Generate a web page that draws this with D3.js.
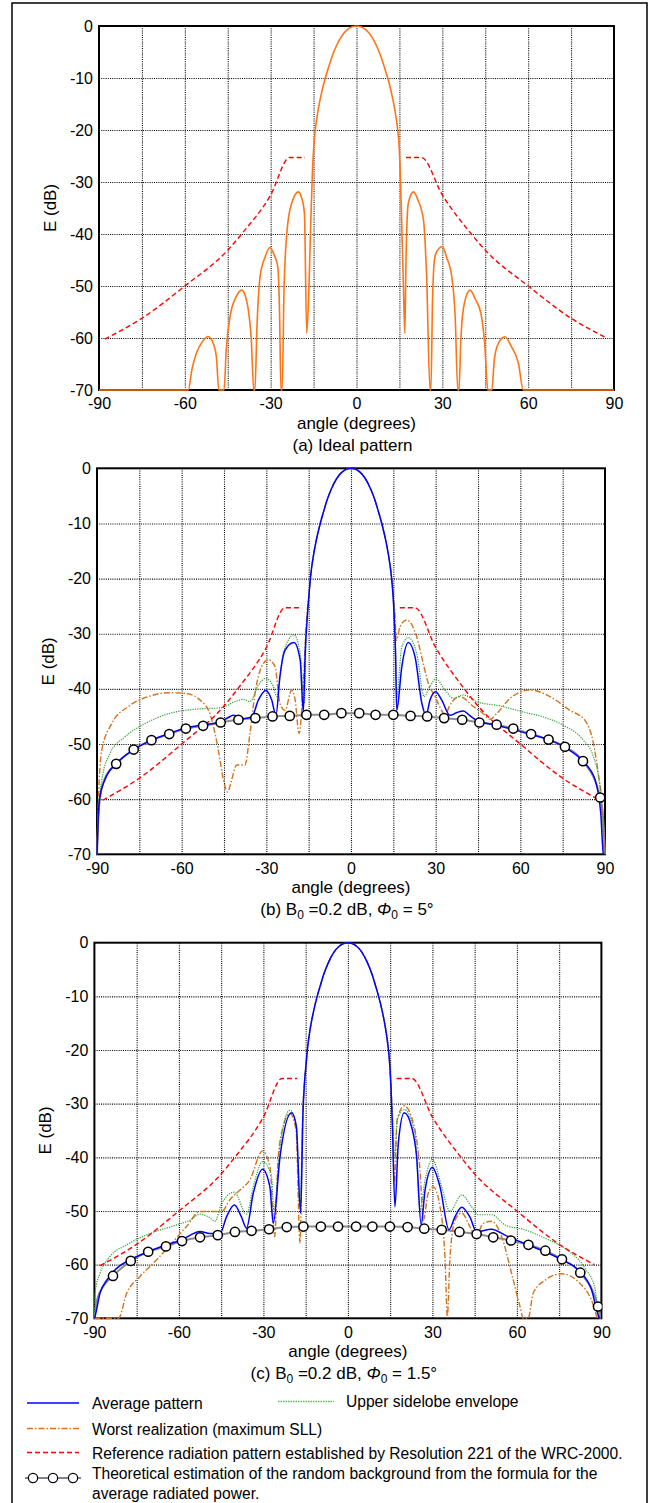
<!DOCTYPE html>
<html>
<head>
<meta charset="utf-8">
<script src="https://cdn.jsdelivr.net/npm/d3@7"></script>
<style>
  body { margin: 0; background: #fff; }
  svg { display: block; font-family: Arial, "Liberation Sans", sans-serif; }
</style>
</head>
<body>
<svg id="fig" width="649" height="1503"></svg>
<script>
// Axis ticks
const xTicks = [-90, -60, -30, 0, 30, 60, 90];
const xGrid = [-75, -60, -45, -30, -15, 0, 15, 30, 45, 60, 75];
const yTicks = [0, -10, -20, -30, -40, -50, -60, -70];

// Reference radiation pattern (Resolution 221, WRC-2000), [angle, dB]
const refPattern = [[-88, -60.2], [-75, -56.2], [-60, -50], [-45, -43.1], [-40, -39.9], [-30, -32.5],
  [-23.4, -25.3], [-18, -25.3], null, [17.3, -25.3], [22.7, -25.3], [30, -32.5], [40, -39.9],
  [45, -43.1], [60, -50], [75, -56.2], [87.5, -60]];

// Main lobe (above about -23 dB)
const mainLobe = [[-14.9, -23], [-14.3, -19.5], [-13.3, -15.8], [-12.2, -12.8], [-10.9, -10],
  [-9.8, -8], [-8.5, -5.8], [-7, -3.8], [-5, -1.8], [-3.2, -0.7], [-1.5, -0.15], [0, 0], [1.5, -0.15],
  [3.2, -0.7], [5, -1.8], [7, -3.8], [8.5, -5.8], [9.8, -8], [10.9, -10], [12.2, -12.8], [13.3, -15.8],
  [14.3, -19.5], [14.9, -23]];

// (a) ideal pattern
const idealLeft = [[-90, -70], [-58.8, -70], [-57.5, -66], [-56, -63], [-54, -60.8], [-52, -59.7],
  [-50.5, -60.5], [-49, -63.5], [-48.1, -70], [-46.3, -70], [-45.5, -62], [-44.2, -55.9], [-42, -52],
  [-40.1, -50.8], [-38.8, -52], [-37.8, -54.6], [-36.8, -60], [-35.9, -70], [-35.5, -70], [-34.8, -58],
  [-33.7, -48.2], [-32, -44.5], [-30.2, -42.6], [-28.8, -44], [-27.5, -46.3], [-26.9, -55], [-26.4, -70],
  [-26, -70], [-25.3, -50], [-24, -37.9], [-22.3, -33.5], [-20.3, -31.9], [-19.2, -33], [-18.2, -36],
  [-17.4, -59.1], [-16.6, -50], [-16, -38], [-15.4, -28]];
const idealRight = [[15.4, -30], [15.9, -40], [16.4, -50], [16.9, -59.1], [17.3, -45], [18.1, -34.1],
  [19.9, -31.9], [21.5, -33.5], [23.4, -37.3], [24.5, -48], [25.7, -70], [26, -70], [26.6, -52],
  [27.4, -44.4], [28.5, -43], [30, -42.4], [31.5, -44.5], [33.3, -48.2], [34.5, -56], [35.4, -70],
  [35.8, -70], [36.5, -60], [37.7, -53.3], [39.7, -50.8], [41.5, -52.5], [43.5, -55.3], [44.8, -61],
  [45.9, -70], [47.3, -70], [48.2, -64], [49.6, -61], [51.9, -59.75], [54, -61.5], [56.6, -64.9],
  [58.3, -70], [90, -70]];

// (b) B0 = 0.2 dB, phi0 = 5 deg
const avgLeftB = [[-90, -70], [-89.6, -64], [-89, -59.6], [-87.2, -56.5], [-83, -53.5], [-76.9, -51],
  [-70.6, -49.3], [-64.5, -48.1], [-58.6, -47.1], [-52.3, -46.5], [-46.2, -46], [-43.5, -45.2],
  [-41.7, -44.8], [-40, -45.1], [-38.7, -45.4], [-35.2, -45.1], [-32.8, -42], [-30.2, -40.3],
  [-28.1, -42], [-26.6, -44.8], [-25.2, -37.8], [-23.4, -33], [-20.2, -31.6], [-18, -34.8],
  [-16.9, -44.2], [-16.2, -33], [-15.5, -27]];
const avgRightB = [[15.4, -28], [15.8, -34], [16.2, -43.9], [18, -36], [20.3, -31.6], [22.7, -34.2],
  [25.1, -42.6], [26.6, -44.8], [28, -42], [30, -40.5], [32.1, -42], [35.1, -44.8], [37.5, -44.3],
  [39.8, -44], [42, -44.8], [44.5, -45.7], [51.6, -46.6], [57.5, -47.4], [64, -48.3], [70.5, -49.3],
  [76.4, -50.8], [82.3, -53.2], [86.5, -56.5], [88.5, -62.6], [89.4, -69.8], [89.7, -70]];
const envLeftB = [[-90, -70], [-89.5, -62.6], [-88.3, -56.5], [-85.4, -51.7], [-80.1, -48.7], [-73, -46.3],
  [-64.7, -44.5], [-55.3, -43.7], [-45.8, -43.4], [-41.1, -42.3], [-38.1, -41.9], [-35.8, -42.3],
  [-32.8, -39.3], [-30.2, -38.1], [-27.5, -39.6], [-26.3, -41.4], [-24, -33.6], [-20.2, -30.2],
  [-18, -33.6], [-16.5, -42.6], [-16, -33], [-15.5, -27]];
const envRightB = [[15.4, -28], [15.8, -33], [16.2, -41.4], [18, -32.4], [20.3, -30.7], [23.3, -33.6],
  [25.9, -41.4], [28, -39.5], [30.1, -38.2], [33.3, -40.2], [36.3, -41.7], [39.8, -41.1], [44.5, -42.3],
  [52.8, -43.1], [61.1, -44.2], [68.2, -45.1], [75.2, -46.6], [82.3, -49.3], [85.9, -52.3],
  [88.2, -57.8], [89.2, -66.2], [89.7, -70]];
const worstLeftB = [[-90, -70], [-89.7, -64], [-89.5, -60.2], [-88.3, -51.1], [-84.8, -46.3],
  [-78.9, -43.2], [-71.8, -41.4], [-64.7, -40.7], [-58.8, -40.8], [-52.9, -42.3], [-50, -44.5],
  [-47, -51.1], [-45.2, -56.5], [-43.7, -58.7], [-42.3, -56.5], [-40.5, -53.8], [-37.6, -53.8],
  [-35.8, -48.1], [-34, -40.8], [-31.7, -36], [-29.3, -34.7], [-26.9, -36], [-25.2, -42.6],
  [-23.4, -43.9], [-21, -40.2], [-19.8, -42], [-18.4, -48.1], [-16.9, -39], [-15.7, -27]];
const worstRightB = [[15.5, -26], [16, -31.2], [17.4, -28.7], [19.7, -27.5], [23.3, -30.6],
  [25.6, -35.4], [27.4, -39], [29.8, -41.4], [32.1, -43.9], [33.3, -44.8], [34.9, -43.1], [38.6, -41.4],
  [43.4, -43.2], [46.9, -44.5], [49.3, -45.5], [51.6, -44.5], [56.4, -41.7], [63.4, -40.2],
  [70.5, -41.4], [77.6, -43.9], [82.9, -45.7], [85.9, -49.9], [87.6, -55.3], [89.2, -62.6], [89.9, -70]];
const bgLineB = [[-90, -70], [-89.5, -63], [-88.5, -58.5], [-86.5, -55.5]];
const bgMarkB = [[-83.2, -53.6], [-77, -51], [-70.7, -49.3], [-64.4, -48.2], [-58.5, -47.2], [-52.4, -46.7],
  [-46.2, -46.1], [-39.9, -45.6], [-33.9, -45.3], [-27.8, -45], [-21.7, -44.9], [-15.8, -44.7],
  [-9.5, -44.7], [-3.4, -44.4], [2.9, -44.4], [8.7, -44.7], [15, -44.7], [21.1, -44.9], [27, -45],
  [33, -45.3], [39.4, -45.6], [45.5, -46.1], [51.6, -46.5], [57.5, -47.2], [63.8, -48.2], [70, -49.2],
  [75.8, -50.5], [82.2, -53.1], [88.3, -59.7]];
const bgEndB = [[89.4, -64], [90, -70]];

// (c) B0 = 0.2 dB, phi0 = 1.5 deg
const avgLeftC = [[-90, -70], [-89.8, -69.7], [-88, -65.3], [-85.6, -62.9], [-82.1, -60.7], [-77.4, -59.1],
  [-70.9, -57.6], [-64.4, -56.3], [-59.1, -55.4], [-52.5, -53.8], [-49, -54.2], [-45.4, -54.2],
  [-43.1, -51.1], [-40.3, -48.9], [-37.8, -51.1], [-36, -53.2], [-33.6, -46.7], [-30.3, -42.2],
  [-27.7, -45.5], [-26.5, -52.3], [-24.1, -39.9], [-20, -31.7], [-18.3, -34.3], [-16.8, -50.4],
  [-15.9, -31], [-15.4, -26]];
const avgRightC = [[15.3, -27], [15.8, -34.3], [16.7, -49.2], [17.9, -37.4], [20, -31.7], [22.6, -34.3],
  [24.4, -39.9], [26, -52.6], [27.4, -46.1], [30, -41.9], [32.7, -45.5], [35.9, -53.5], [38, -51.1],
  [40.4, -49.3], [43.3, -51.1], [45.7, -53.9], [51, -53.4], [55.8, -54.5], [62.9, -56.1], [70, -57.6],
  [75.9, -59.1], [81.8, -61], [86.5, -64.7], [89.1, -69.7], [89.5, -70]];
const envLeftC = [[-90, -70], [-89.8, -65.3], [-88, -61.6], [-84.5, -58.5], [-78.5, -56.3], [-70.3, -54.2],
  [-60.8, -52.6], [-56, -51.7], [-52.5, -50.6], [-49.5, -51.1], [-47.2, -51.9], [-44.8, -48.6],
  [-40.3, -46.5], [-36, -50.6], [-33.6, -45.5], [-30.3, -40.8], [-27.1, -43.6], [-26.3, -49.8],
  [-24.1, -38], [-20.6, -31.2], [-18.4, -33.7], [-17, -49.2], [-16, -31], [-15.4, -26]];
const envRightC = [[15.3, -27], [15.8, -32], [16.6, -40], [17.5, -33], [20, -31.1], [23.8, -35.5],
  [25.6, -49.8], [27.4, -44.2], [30, -40.4], [33.3, -45.5], [36.2, -50.1], [40.4, -47], [43.9, -49.2],
  [46.3, -50.7], [51, -50.7], [55.8, -52.6], [62.9, -53.5], [70, -55.1], [77.1, -57], [84.2, -60.7],
  [87.7, -64.4], [89.1, -69.7], [89.5, -70]];
const worstLeftC = [[-90, -70], [-81.5, -70], [-78.5, -65.3], [-73.8, -62.2], [-67.9, -59.1], [-62, -55.7],
  [-57.3, -52.9], [-52.5, -50.1], [-47.8, -50.1], [-44.8, -50.1], [-41.9, -47.9], [-38.3, -46.1],
  [-34.8, -44.2], [-30.3, -38.8], [-27.7, -41.7], [-26, -54.8], [-24.8, -40.5], [-23, -34.3],
  [-20.6, -31.8], [-18.4, -34.9], [-17, -56], [-16, -32], [-15.4, -26]];
const worstRightC = [[15.3, -27], [15.8, -33], [16.5, -45], [17.5, -33], [20, -30.4], [23.8, -34.9],
  [25.6, -42.4], [26.8, -51.7], [28.5, -46.7], [30.3, -45.5], [32.7, -49.2], [34.5, -59.1], [35.3, -69.7],
  [36.2, -59.1], [38, -51.7], [40.4, -50.4], [43.3, -52.9], [45.3, -54.8], [48.1, -52.3], [51, -51.9],
  [54.6, -54.8], [58.1, -61.6], [61.1, -67.8], [62.3, -70], [64, -70], [65.8, -65.3], [70, -62.9],
  [75.9, -61.7], [81.8, -63.2], [86.5, -66.6], [88.9, -70], [90, -70]];
const bgLineC = [[-90, -70], [-89, -66.5], [-86.8, -64]];
const bgMarkC = [[-83.4, -62.1], [-77.1, -59.3], [-70.9, -57.6], [-64.6, -56.6], [-58.9, -55.6],
  [-52.5, -54.9], [-46.2, -54.5], [-40.1, -53.9], [-34.2, -53.7], [-28, -53.4], [-21.7, -53],
  [-15.8, -52.9], [-9.6, -52.9], [-3.5, -52.9], [2.9, -52.9], [8.7, -52.9], [14.9, -52.9], [21.2, -53],
  [27.1, -53.3], [33.3, -53.5], [39.6, -53.9], [45.7, -54.3], [51.6, -54.9], [57.9, -55.5], [64.1, -56.3],
  [70.1, -57.4], [76, -59], [82.5, -61.5], [88.8, -67.8]];
const bgEndC = [[89.6, -70]];

const COL = {
  ideal: "#ff7414", avg: "#0000ff", env: "#2ea12e", worst: "#d2731e",
  ref: "#ff0000", bg: "#8c8c8c"
};

const svg = d3.select("#fig");

// outer frame
svg.append("rect")
  .attr("x", 12).attr("y", 3).attr("width", 635).attr("height", 1520)
  .attr("fill", "none").attr("stroke", "#000").attr("stroke-width", 1.5);

function drawPanel(p) {
  const x = d3.scaleLinear().domain([-90, 90]).range([p.left, p.right]);
  const y = d3.scaleLinear().domain([-70, 0]).range([p.bottom, p.top]);
  const g = svg.append("g");
  const h = p.bottom - p.top;

  // grid
  const gx = g.append("g").attr("transform", `translate(0,${p.bottom})`)
    .call(d3.axisBottom(x).tickValues(xGrid).tickSize(-h).tickFormat(""));
  const gy = g.append("g").attr("transform", `translate(${p.left},0)`)
    .call(d3.axisLeft(y).tickValues(yTicks.slice(1, -1)).tickSize(-(p.right - p.left)).tickFormat(""));
  [gx, gy].forEach(a => {
    a.select(".domain").remove();
    a.selectAll("line").attr("stroke", "#000").attr("stroke-width", 1.1).attr("stroke-dasharray", "1,1.2");
  });

  // tick labels (plain hyphen minus, as in the figure)
  const fmt = d => String(d);
  const ax = g.append("g").attr("transform", `translate(0,${p.bottom})`)
    .call(d3.axisBottom(x).tickValues(xTicks).tickSize(0).tickPadding(8).tickFormat(fmt));
  const ay = g.append("g").attr("transform", `translate(${p.left},0)`)
    .call(d3.axisLeft(y).tickValues(yTicks).tickSize(0).tickPadding(6).tickFormat(fmt));
  [ax, ay].forEach(a => {
    a.select(".domain").remove();
    a.selectAll("text").attr("font-size", 16).attr("font-family", "Arial, 'Liberation Sans', sans-serif").attr("fill", "#000");
  });

  // frame
  g.append("rect").attr("x", p.left).attr("y", p.top)
    .attr("width", p.right - p.left).attr("height", h)
    .attr("fill", "none").attr("stroke", "#000").attr("stroke-width", 2);

  // clip
  const cid = "clip" + p.id;
  svg.append("clipPath").attr("id", cid).append("rect")
    .attr("x", p.left - 1).attr("y", p.top - 2).attr("width", p.right - p.left + 2).attr("height", h + 3);

  const line = d3.line().defined(d => d !== null)
    .x(d => x(d[0])).y(d => y(d[1])).curve(d3.curveMonotoneX);
  const lines = g.append("g").attr("clip-path", `url(#${cid})`);

  p.series.forEach(s => {
    lines.append("path").datum(s.data)
      .attr("fill", "none").attr("stroke", s.color).attr("stroke-width", s.width)
      .attr("stroke-dasharray", s.dash || null)
      .attr("stroke-linejoin", "round")
      .attr("d", line);
  });

  if (p.markers) {
    lines.selectAll("circle.mk").data(p.markers).join("circle")
      .attr("class", "mk")
      .attr("cx", d => x(d[0])).attr("cy", d => y(d[1])).attr("r", 4.6)
      .attr("fill", "#fff").attr("stroke", "#000").attr("stroke-width", 1.5);
  }

  // axis titles
  g.append("text").attr("x", (p.left + p.right) / 2).attr("y", p.bottom + 39)
    .attr("text-anchor", "middle").attr("font-size", 17).text("angle (degrees)");
  g.append("text")
    .attr("transform", `translate(${p.left - 49},${(p.top + p.bottom) / 2}) rotate(-90)`)
    .attr("text-anchor", "middle").attr("dy", "0.35em").attr("font-size", 17).text("E (dB)");

  // caption
  const cap = g.append("text").attr("x", (p.left + p.right) / 2 - 4).attr("y", p.bottom + 61)
    .attr("text-anchor", "middle").attr("font-size", 17);
  p.caption(cap);
}

function subCaption(label, phi) {
  return t => {
    t.append("tspan").text(`(${label}) B`);
    t.append("tspan").attr("font-size", 12).attr("dy", 4).text("0");
    t.append("tspan").attr("dy", -4).text(" =0.2 dB, ");
    t.append("tspan").attr("font-style", "italic").text("Φ");
    t.append("tspan").attr("font-size", 12).attr("dy", 4).text("0");
    t.append("tspan").attr("dy", -4).text(` = ${phi}°`);
  };
}

const ref = { data: refPattern, color: COL.ref, width: 1.4, dash: "5,3" };

drawPanel({
  id: "a", left: 99, right: 614, top: 26, bottom: 390,
  series: [
    { data: idealLeft.concat(mainLobe, idealRight), color: COL.ideal, width: 1.6 },
    ref
  ],
  caption: t => t.text("(a) Ideal pattern")
});

drawPanel({
  id: "b", left: 97, right: 605, top: 468.3, bottom: 854.3,
  series: [
    { data: bgLineB.concat(bgMarkB, bgEndB), color: COL.bg, width: 2 },
    { data: worstLeftB.concat(mainLobe, worstRightB), color: COL.worst, width: 1.4, dash: "6,2,1.5,2" },
    { data: envLeftB.concat(mainLobe, envRightB), color: COL.env, width: 1.2, dash: "1.2,1.2" },
    { data: avgLeftB.concat(mainLobe, avgRightB), color: COL.avg, width: 1.5 },
    ref
  ],
  markers: bgMarkB,
  caption: subCaption("b", "5")
});

drawPanel({
  id: "c", left: 94.4, right: 601.4, top: 942.7, bottom: 1318.3,
  series: [
    { data: bgLineC.concat(bgMarkC, bgEndC), color: COL.bg, width: 2 },
    { data: worstLeftC.concat(mainLobe, worstRightC), color: COL.worst, width: 1.4, dash: "6,2,1.5,2" },
    { data: envLeftC.concat(mainLobe, envRightC), color: COL.env, width: 1.2, dash: "1.2,1.2" },
    { data: avgLeftC.concat(mainLobe, avgRightC), color: COL.avg, width: 1.5 },
    ref
  ],
  markers: bgMarkC,
  caption: subCaption("c", "1.5")
});

// legend
const lg = svg.append("g").attr("font-size", 15.6);
function legLine(x1, x2, yy, color, dash, w) {
  lg.append("line").attr("x1", x1).attr("x2", x2).attr("y1", yy).attr("y2", yy)
    .attr("stroke", color).attr("stroke-width", w).attr("stroke-dasharray", dash || null);
}
legLine(27, 79, 1403, COL.avg, null, 1.5);
lg.append("text").attr("x", 92).attr("y", 1408.5).text("Average pattern");
legLine(278, 334, 1401.5, "#5cb85c", "1.5,1", 1.4);
lg.append("text").attr("x", 346).attr("y", 1407).text("Upper sidelobe envelope");
legLine(27, 79, 1428.5, COL.worst, "6,2,1.5,2", 1.4);
lg.append("text").attr("x", 92).attr("y", 1434.5).text("Worst realization (maximum SLL)");
legLine(27, 79, 1452.5, COL.ref, "5,3", 1.4);
lg.append("text").attr("x", 92).attr("y", 1458.5).text("Reference radiation pattern established by Resolution 221 of the WRC-2000.");
legLine(25, 81, 1478, "#555577", null, 1.5);
lg.selectAll("circle.lgc").data([33, 53, 73]).join("circle").attr("class", "lgc")
  .attr("cx", d => d).attr("cy", 1478).attr("r", 4.6)
  .attr("fill", "#fff").attr("stroke", "#000").attr("stroke-width", 1.2);
lg.append("text").attr("x", 92).attr("y", 1478.5).text("Theoretical estimation of the random background from the formula for the");
lg.append("text").attr("x", 92).attr("y", 1498.5).text("average radiated power.");
</script>
</body>
</html>
